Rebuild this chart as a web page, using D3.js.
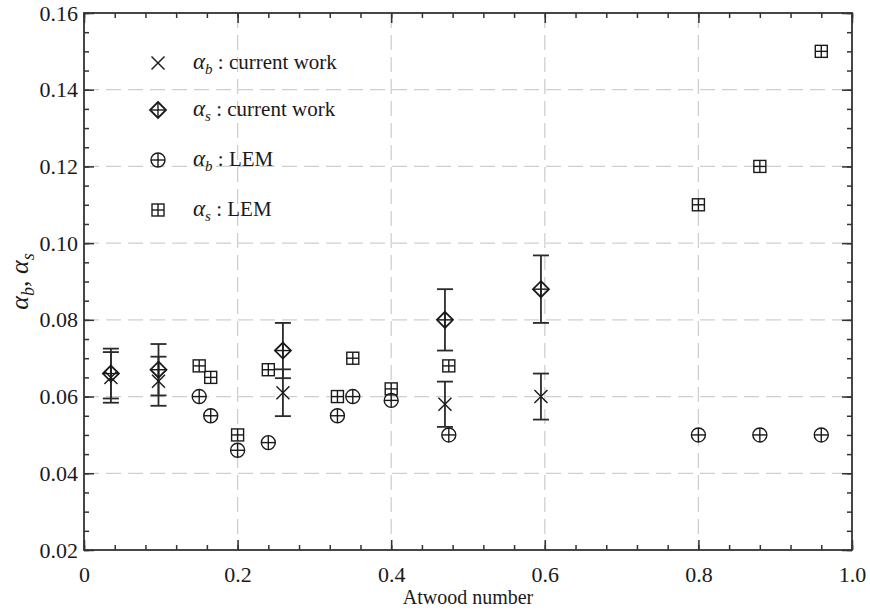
<!DOCTYPE html>
<html><head><meta charset="utf-8">
<script src="https://cdn.jsdelivr.net/npm/d3@7"></script>
<style>
html,body{margin:0;padding:0;background:#fff;}
svg{display:block;font-family:"Liberation Serif","Times New Roman",serif;}
</style></head>
<body>
<svg id="chart" width="870" height="611"></svg>
<script>
// ---- data ----
const xTickValues = [0, 0.2, 0.4, 0.6, 0.8, 1.0];
const xTickLabels = ["0", "0.2", "0.4", "0.6", "0.8", "1.0"];
const yTickValues = [0.02, 0.04, 0.06, 0.08, 0.10, 0.12, 0.14, 0.16];
const yTickLabels = ["0.02", "0.04", "0.06", "0.08", "0.10", "0.12", "0.14", "0.16"];

// current work
const cwAtwood = [0.035, 0.097, 0.259, 0.470, 0.595];
const cwAlphaB = [0.065, 0.064, 0.061, 0.058, 0.060];
const cwAlphaBErr = [0.0066, 0.0064, 0.0061, 0.0059, 0.0060];
const cwAlphaS = [0.066, 0.067, 0.072, 0.080, 0.088];
const cwAlphaSErr = [0.0065, 0.0067, 0.0072, 0.0080, 0.0088];

// LEM
const lemAtwood = [0.15, 0.165, 0.20, 0.24, 0.33, 0.35, 0.40, 0.475, 0.80, 0.88, 0.96];
const lemAlphaB = [0.060, 0.055, 0.046, 0.048, 0.055, 0.060, 0.059, 0.050, 0.050, 0.050, 0.050];
const lemAlphaS = [0.068, 0.065, 0.050, 0.067, 0.060, 0.070, 0.062, 0.068, 0.110, 0.120, 0.150];

const legendItems = [
  {sym: "x", sub: "b", text: " : current work"},
  {sym: "diamond", sub: "s", text: " : current work"},
  {sym: "circle", sub: "b", text: " : LEM"},
  {sym: "square", sub: "s", text: " : LEM"}
];

// ---- layout ----
const svg = d3.select("#chart");
const L = 84, R = 852, T = 13, B = 550;
const x = d3.scaleLinear().domain([0, 1]).range([L, R]);
const y = d3.scaleLinear().domain([0.02, 0.16]).range([B, T]);
const ink = "#1a1a1a";
const fontSize = 22;
const serif = '"Liberation Serif","Times New Roman",serif';

// grid
const grid = svg.append("g");
grid.selectAll("line.gx").data(xTickValues.filter(v => v > 0 && v < 1)).join("line")
  .attr("x1", d => x(d)).attr("x2", d => x(d)).attr("y1", T).attr("y2", B)
  .attr("stroke", "#cfcfcf").attr("stroke-width", 1.3).attr("stroke-dasharray", "15,7");
grid.selectAll("line.gy").data(yTickValues.filter(v => v > 0.02 && v < 0.16)).join("line")
  .attr("y1", d => y(d)).attr("y2", d => y(d)).attr("x1", L).attr("x2", R)
  .attr("stroke", "#cfcfcf").attr("stroke-width", 1.3).attr("stroke-dasharray", "15,7");

// axes (inward ticks, mirrored)
const xMinor = d3.range(0, 1.0001, 0.04);
const yMinor = d3.range(0.02, 0.16001, 0.005);
function addAxis(axis, transform) {
  const g = svg.append("g").attr("transform", transform).call(axis);
  g.select(".domain").remove();
  g.selectAll("line").attr("stroke", "#333").attr("stroke-width", 1.5);
  return g;
}
addAxis(d3.axisBottom(x).tickValues(xMinor).tickSize(-5).tickFormat(""), `translate(0,${B})`);
addAxis(d3.axisTop(x).tickValues(xMinor).tickSize(-5).tickFormat(""), `translate(0,${T})`);
addAxis(d3.axisLeft(y).tickValues(yMinor).tickSize(-5).tickFormat(""), `translate(${L},0)`);
addAxis(d3.axisRight(y).tickValues(yMinor).tickSize(-5).tickFormat(""), `translate(${R},0)`);
const xb = addAxis(d3.axisBottom(x).tickValues(xTickValues).tickSize(-10)
  .tickPadding(18).tickFormat((d, i) => xTickLabels[i]), `translate(0,${B})`);
addAxis(d3.axisTop(x).tickValues(xTickValues).tickSize(-10).tickFormat(""), `translate(0,${T})`);
const yl = addAxis(d3.axisLeft(y).tickValues(yTickValues).tickSize(-10)
  .tickPadding(6).tickFormat((d, i) => yTickLabels[i]), `translate(${L},0)`);
addAxis(d3.axisRight(y).tickValues(yTickValues).tickSize(-10).tickFormat(""), `translate(${R},0)`);
[xb, yl].forEach(g => g.selectAll("text").attr("fill", ink)
  .attr("font-size", fontSize).attr("font-family", serif));
xb.selectAll("text").attr("dy", "0.62em");

// frame
svg.append("rect").attr("x", L).attr("y", T).attr("width", R - L).attr("height", B - T)
  .attr("fill", "none").attr("stroke", "#333").attr("stroke-width", 1.8);

// axis titles
svg.append("text").attr("x", (L + R) / 2).attr("y", 604).attr("text-anchor", "middle")
  .attr("font-size", 20).attr("fill", ink).text("Atwood number");
const yt = svg.append("text").attr("transform", `translate(28,${(T + B) / 2}) rotate(-90)`)
  .attr("text-anchor", "middle").attr("font-size", 26).attr("fill", ink);
yt.append("tspan").attr("font-style", "italic").text("α");
yt.append("tspan").attr("font-style", "italic").attr("font-size", 18).attr("dy", 6).text("b");
yt.append("tspan").attr("dy", -6).text(", ");
yt.append("tspan").attr("font-style", "italic").text("α");
yt.append("tspan").attr("font-style", "italic").attr("font-size", 18).attr("dy", 6).text("s");

// marker drawing
function drawMarker(g, type, cx, cy) {
  const s = g.append("g").attr("transform", `translate(${cx},${cy})`)
    .attr("fill", "none").attr("stroke", ink).attr("stroke-width", 1.4);
  if (type === "x") {
    const h = 6.5;
    s.append("line").attr("x1", -h).attr("y1", -h).attr("x2", h).attr("y2", h);
    s.append("line").attr("x1", -h).attr("y1", h).attr("x2", h).attr("y2", -h);
  } else if (type === "diamond") {
    const h = 8;
    s.append("path").attr("d", `M0,${-h}L${h},0L0,${h}L${-h},0Z`).attr("stroke-width", 1.8);
    s.append("line").attr("x1", -h).attr("x2", h).attr("y1", 0).attr("y2", 0);
    s.append("line").attr("y1", -h).attr("y2", h).attr("x1", 0).attr("x2", 0);
  } else if (type === "circle") {
    const r = 7;
    s.append("circle").attr("r", r);
    s.append("line").attr("x1", -r).attr("x2", r).attr("y1", 0).attr("y2", 0);
    s.append("line").attr("y1", -r).attr("y2", r).attr("x1", 0).attr("x2", 0);
  } else if (type === "square") {
    const h = 6;
    s.append("rect").attr("x", -h).attr("y", -h).attr("width", 2 * h).attr("height", 2 * h);
    s.append("line").attr("x1", -h).attr("x2", h).attr("y1", 0).attr("y2", 0);
    s.append("line").attr("y1", -h).attr("y2", h).attr("x1", 0).attr("x2", 0);
  }
}

// error bars
const eb = svg.append("g").attr("stroke", "#2a2a2a").attr("stroke-width", 1.8);
function errorBars(xs, vs, es) {
  xs.forEach((a, i) => {
    const cx = x(a), y1 = y(vs[i] + es[i]), y2 = y(vs[i] - es[i]);
    eb.append("line").attr("x1", cx).attr("x2", cx).attr("y1", y1).attr("y2", y2);
    eb.append("line").attr("x1", cx - 8).attr("x2", cx + 8).attr("y1", y1).attr("y2", y1);
    eb.append("line").attr("x1", cx - 8).attr("x2", cx + 8).attr("y1", y2).attr("y2", y2);
  });
}
errorBars(cwAtwood, cwAlphaS, cwAlphaSErr);
errorBars(cwAtwood, cwAlphaB, cwAlphaBErr);

// markers
const mk = svg.append("g");
lemAtwood.forEach((a, i) => drawMarker(mk, "square", x(a), y(lemAlphaS[i])));
lemAtwood.forEach((a, i) => drawMarker(mk, "circle", x(a), y(lemAlphaB[i])));
cwAtwood.forEach((a, i) => drawMarker(mk, "diamond", x(a), y(cwAlphaS[i])));
cwAtwood.forEach((a, i) => drawMarker(mk, "x", x(a), y(cwAlphaB[i])));

// legend
const legY = [63, 110, 160, 210];
const lg = svg.append("g");
legendItems.forEach((it, i) => {
  drawMarker(lg, it.sym, 158, legY[i]);
  const t = lg.append("text").attr("x", 193).attr("y", legY[i] + 6)
    .attr("font-size", 21).attr("fill", ink);
  t.append("tspan").attr("font-style", "italic").attr("font-size", 23).text("α");
  t.append("tspan").attr("font-style", "italic").attr("font-size", 15).attr("dy", 5).text(it.sub);
  t.append("tspan").attr("dy", -5).text(it.text);
});
</script>
</body></html>
